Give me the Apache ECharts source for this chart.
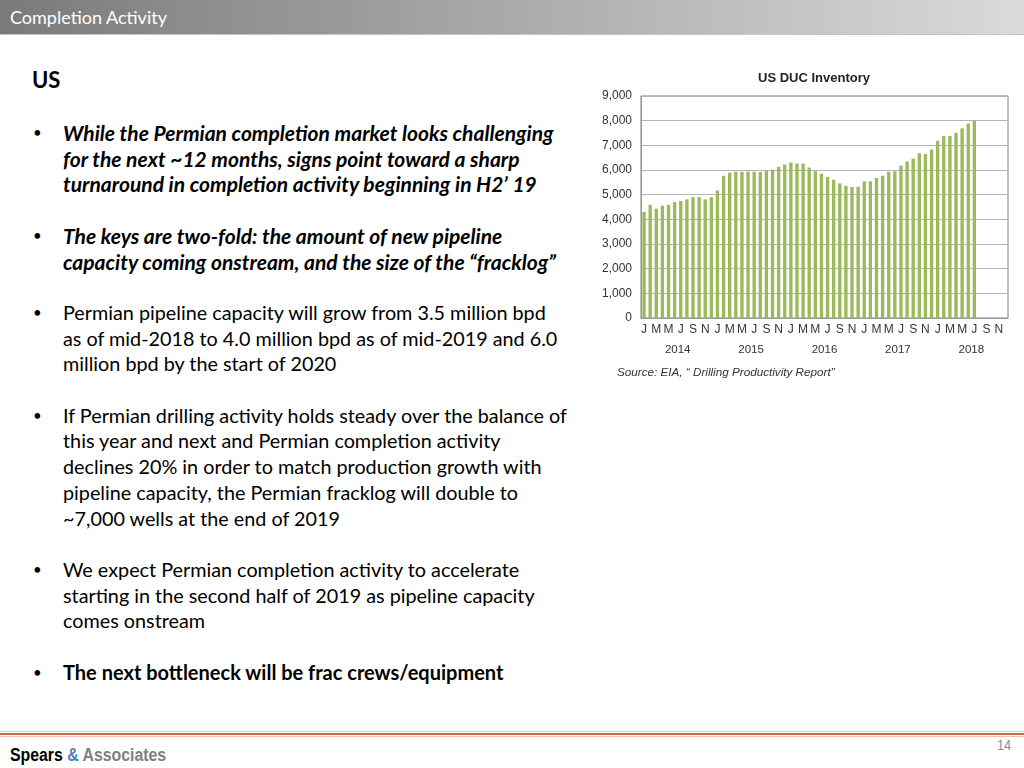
<!DOCTYPE html>
<html lang="en">
<head>
    <meta charset="UTF-8">
    <title>Completion Activity</title>
    <script src="https://cdn.jsdelivr.net/npm/echarts@6.0.0/dist/echarts.min.js"></script>
    <style>
        html, body { margin: 0; padding: 0; }
        body {
            width: 1024px; height: 768px; position: relative; overflow: hidden;
            background: #fff; font-family: Lato, "Open Sans", sans-serif; color: #000;
        }
        .header {
            position: absolute; left: 0; top: 0; width: 1024px; height: 34px;
            background: linear-gradient(to right, #7a7a7a, #dadada);
            border-bottom: 1px solid #c4c4c4;
        }
        .header span {
            position: absolute; left: 10px; top: 6px;
            color: #fff; font-size: 18px;
        }
        .country {
            position: absolute; left: 32px; top: 66px;
            font-size: 22px; font-weight: bold;
        }
        .bullets {
            position: absolute; left: 33px; top: 120px; width: 580px;
            font-size: 19.8px; line-height: 25.7px;
        }
        .bullets p { margin: 0 0 25.7px 0; padding-left: 30px; position: relative; white-space: nowrap; }
        .bullets p:before { content: "\2022"; position: absolute; left: 0; font-size: 15px; font-weight: normal; font-style: normal; }
        .bi { font-weight: bold; font-style: italic; font-size: 21px; }
        .b { font-weight: bold; font-size: 20px; }
        #main { position: absolute; left: 580px; top: 60px; width: 440px; height: 330px; }
        .rule1 { position: absolute; left: 0; top: 731px; width: 1024px; height: 1px; background: #f2c1ad; }
        .rule2 { position: absolute; left: 0; top: 733px; width: 1024px; height: 2px; background: #d5633f; }
        .rule3 { position: absolute; left: 0; top: 736px; width: 1024px; height: 1px; background: #f2c1ad; }
        .brand {
            position: absolute; left: 10px; top: 745px; white-space: nowrap;
            font-family: "Liberation Sans", Arial, sans-serif;
            font-weight: bold; font-size: 18px;
            transform: scaleX(0.88); transform-origin: left top;
        }
        .brand .amp { color: #4f81bd; }
        .brand .assoc { color: #7f7f7f; }
        .pageno {
            position: absolute; left: 997px; top: 736px;
            font-family: "Liberation Sans", Arial, sans-serif;
            color: #8c8c8c; font-size: 15px;
            transform: scaleX(0.85); transform-origin: left top;
        }
    </style>
</head>
<body>
    <div class="header"><span>Completion Activity</span></div>
    <div class="country">US</div>

    <div class="bullets">
        <p class="bi">While the Permian completion market looks challenging<br>for the next ~12 months, signs point toward a sharp<br>turnaround in completion activity beginning in H2’ 19</p>
        <p class="bi">The keys are two-fold: the amount of new pipeline<br>capacity coming onstream, and the size of the “fracklog”</p>
        <p>Permian pipeline capacity will grow from 3.5 million bpd<br>as of mid-2018 to 4.0 million bpd as of mid-2019 and 6.0<br>million bpd by the start of 2020</p>
        <p>If Permian drilling activity holds steady over the balance of<br>this year and next and Permian completion activity<br>declines 20% in order to match production growth with<br>pipeline capacity, the Permian fracklog will double to<br>~7,000 wells at the end of 2019</p>
        <p>We expect Permian completion activity to accelerate<br>starting in the second half of 2019 as pipeline capacity<br>comes onstream</p>
        <p class="b">The next bottleneck will be frac crews/equipment</p>
    </div>

    <!-- DUC chart -->
    <div id="main"></div>

    <div class="rule1"></div>
    <div class="rule2"></div>
    <div class="rule3"></div>
    <div class="brand">Spears <span class="amp">&amp;</span> <span class="assoc">Associates</span></div>
    <div class="pageno">14</div>

    <script>
        // month letters, Jan 2014 - Dec 2018
        var monthLetters = ['J', 'F', 'M', 'A', 'M', 'J', 'J', 'A', 'S', 'O', 'N', 'D'];
        var years = ['2014', '2015', '2016', '2017', '2018'];

        // DUC wells, Jan 2014 - Jul 2018
        var ducWells = [
            4300, 4590, 4430, 4550, 4590, 4700, 4740, 4810, 4900, 4900, 4810, 4900,
            5170, 5770, 5890, 5930, 5930, 5930, 5930, 5920, 5960, 6010, 6130, 6220,
            6300, 6260, 6260, 6100, 5950, 5850, 5720, 5600, 5460, 5360, 5310, 5320,
            5540, 5540, 5680, 5770, 5930, 5950, 6180, 6350, 6460, 6680, 6650, 6830,
            7190, 7380, 7380, 7510, 7690, 7880, 8000
        ];

        var months = [];
        years.forEach(function (y) {
            monthLetters.forEach(function (m, i) { months.push(m + '-' + y + '-' + i); });
        });

        var chart = echarts.init(document.getElementById('main'));

        var option = {
            animation: false,
            title: [{
                text: 'US DUC Inventory',
                left: 229, top: 7, textAlign: 'center',
                textStyle: { fontFamily: 'Liberation Sans', fontSize: 13, fontWeight: 'bold', color: '#222' }
            }, {
                text: 'Source: EIA, \u201C Drilling Productivity Report\u201D',
                left: 32, top: 302,
                textStyle: { fontFamily: 'Liberation Sans', fontSize: 11.7, fontStyle: 'italic', fontWeight: 'normal', color: '#333' }
            }],
            grid: {
                left: 61, top: 36, width: 367, height: 222,
                show: true, borderColor: '#7f7f7f', borderWidth: 1
            },
            xAxis: [{
                type: 'category',
                data: months,
                axisLine: { lineStyle: { color: '#999' } },
                axisTick: { interval: 1, length: 17, lineStyle: { color: '#999' } },
                axisLabel: {
                    interval: 1, margin: 6,
                    fontFamily: 'Liberation Sans', fontSize: 12, color: '#333',
                    formatter: function (v) { return v.split('-')[0]; }
                }
            }, {
                type: 'category',
                data: years,
                position: 'bottom',
                axisLine: { show: false },
                axisTick: { length: 37, lineStyle: { color: '#999' } },
                axisLabel: { margin: 26, fontFamily: 'Liberation Sans', fontSize: 11.5, color: '#333' }
            }],
            yAxis: {
                type: 'value',
                min: 0, max: 9000, interval: 1000,
                axisLine: { show: true, lineStyle: { color: '#999' } },
                axisTick: { show: false },
                splitLine: { lineStyle: { color: '#b5b5b5' } },
                axisLabel: {
                    margin: 9, fontFamily: 'Liberation Sans', fontSize: 12, color: '#333',
                    formatter: function (v) { return v.toLocaleString('en-US'); }
                }
            },
            series: [{
                type: 'bar',
                data: ducWells,
                barWidth: '55%',
                itemStyle: { color: '#9cba5c' }
            }]
        };

        chart.setOption(option);
    </script>
</body>
</html>
